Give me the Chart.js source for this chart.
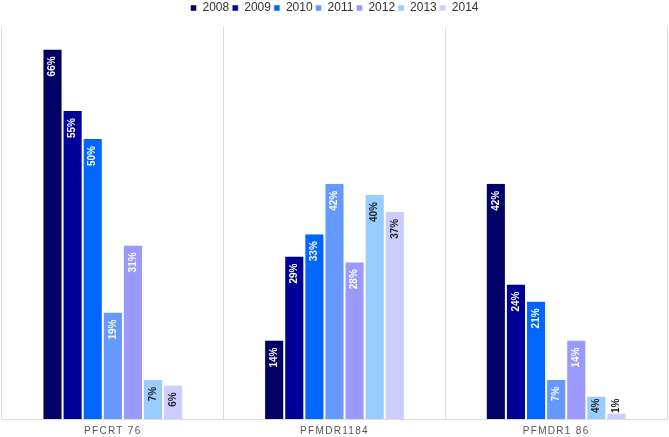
<!DOCTYPE html>
<html>
<head>
<meta charset="utf-8">
<script src="https://cdn.jsdelivr.net/npm/chart.js@4.4.1/dist/chart.umd.min.js"></script>
<style>
  body { margin: 0; background: #fff; }
  canvas { display: block; }
</style>
</head>
<body>
<canvas id="markers-chart" width="669" height="437"></canvas>
<script>
const markers = ["PFCRT 76", "PFMDR1184", "PFMDR1 86"];
const years = ["2008", "2009", "2010", "2011", "2012", "2013", "2014"];

// percent per year, one entry per marker
const y2008 = [66, 14, 42];
const y2009 = [55, 29, 24];
const y2010 = [50, 33, 21];
const y2011 = [19, 42, 7];
const y2012 = [31, 28, 14];
const y2013 = [7, 40, 4];
const y2014 = [6, 37, 1];

const yearColors = [
  "#000066",
  "#000099",
  "#0066ff",
  "#6699ff",
  "#9999ff",
  "#99ccff",
  "#ccccff",
];
const labelColors = ["#fff", "#fff", "#fff", "#fff", "#fff", "#222", "#222"];

const series = [y2008, y2009, y2010, y2011, y2012, y2013, y2014];

// rotated % labels inside the bars
const barLabels = {
  id: "barLabels",
  afterDatasetsDraw(chart) {
    const ctx = chart.ctx;
    const base = chart.scales.y.getPixelForValue(0);
    chart.data.datasets.forEach((ds, i) => {
      chart.getDatasetMeta(i).data.forEach((bar, j) => {
        const txt = ds.data[j] + "%";
        ctx.save();
        ctx.font = "bold 10px Arial";
        const w = ctx.measureText(txt).width;
        let end = Math.min(bar.y + 7, base - 6 - w);
        ctx.translate(bar.x, end);
        ctx.rotate(-Math.PI / 2);
        ctx.textAlign = "right";
        ctx.textBaseline = "middle";
        ctx.fillStyle = labelColors[i];
        ctx.fillText(txt, 0, 0);
        ctx.restore();
      });
    });
  },
};

// spaced out letters on the category axis
const spacedTicks = {
  id: "spacedTicks",
  afterLayout(chart) {
    const sc = chart.scales.x;
    if (sc._spaced) return;
    const orig = sc.drawLabels.bind(sc);
    sc.drawLabels = function (area) {
      const ctx = chart.ctx;
      ctx.save();
      ctx.letterSpacing = "1.3px";
      orig(area);
      ctx.restore();
    };
    sc._spaced = true;
  },
};

// a bit more room between legend and bars
const legendGap = {
  id: "legendGap",
  beforeInit(chart) {
    const fit = chart.legend.fit;
    chart.legend.fit = function () {
      fit.bind(chart.legend)();
      this.height += 3;
    };
  },
};

new Chart(document.getElementById("markers-chart"), {
  type: "bar",
  plugins: [barLabels, spacedTicks, legendGap],
  data: {
    labels: markers,
    datasets: years.map((yr, i) => ({
      label: yr,
      data: series[i],
      backgroundColor: yearColors[i],
      borderColor: "#ffffff",
      borderWidth: { left: 1, right: 1, top: 0, bottom: 0 },
      borderSkipped: "bottom",
      barPercentage: 1,
      categoryPercentage: 0.635,
    })),
  },
  options: {
    responsive: false,
    animation: false,
    layout: { padding: { left: 2, right: 2, top: -1, bottom: 0 } },
    plugins: {
      tooltip: { enabled: false },
      legend: {
        position: "top",
        labels: {
          boxWidth: 6,
          boxHeight: 6,
          padding: 3,
          color: "#333",
          font: { family: "Arial, 'Liberation Sans'", size: 12 },
        },
      },
    },
    scales: {
      x: {
        afterFit(scale) {
          scale.height = 18;
        },
        grid: {
          color: "#dcdcdc",
          drawTicks: false,
          offset: true,
        },
        border: { color: "#dcdcdc" },
        ticks: {
          color: "#555",
          padding: 6,
          font: { family: "Arial, 'Liberation Sans'", size: 10 },
        },
      },
      y: {
        display: false,
        min: 0,
        max: 70,
      },
    },
  },
});
</script>
</body>
</html>
